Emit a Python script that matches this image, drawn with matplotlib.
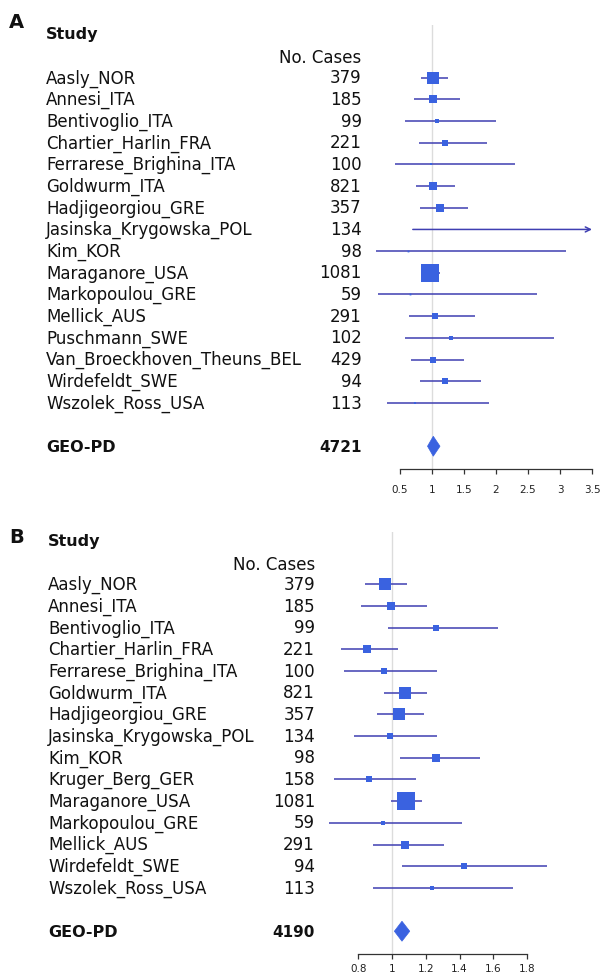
import matplotlib
matplotlib.use("Agg")
import matplotlib.pyplot as plt
import matplotlib.transforms as mtransforms
from matplotlib.patches import Polygon
from matplotlib.ticker import FixedLocator, FixedFormatter
import numpy as np

plt.rcParams['font.family'] = ['DejaVu Sans']

# ---------------- data: panel A ----------------
studies_A = ["Aasly_NOR", "Annesi_ITA", "Bentivoglio_ITA", "Chartier_Harlin_FRA",
             "Ferrarese_Brighina_ITA", "Goldwurm_ITA", "Hadjigeorgiou_GRE",
             "Jasinska_Krygowska_POL", "Kim_KOR", "Maraganore_USA", "Markopoulou_GRE",
             "Mellick_AUS", "Puschmann_SWE", "Van_Broeckhoven_Theuns_BEL",
             "Wirdefeldt_SWE", "Wszolek_Ross_USA"]
cases_A = [379, 185, 99, 221, 100, 821, 357, 134, 98, 1081, 59, 291, 102, 429, 94, 113]
or_A = [1.02, 1.02, 1.08, 1.21, 0.99, 1.01, 1.125, 3.8, 0.62, 0.965, 0.65, 1.04, 1.29, 1.01, 1.20, 0.74]
lo_A = [0.83, 0.72, 0.58, 0.79, 0.42, 0.75, 0.81, 0.70, 0.12, 0.84, 0.16, 0.645, 0.58, 0.67, 0.81, 0.29]
hi_A = [1.245, 1.44, 2.00, 1.86, 2.30, 1.36, 1.56, 20.6, 3.10, 1.12, 2.64, 1.67, 2.91, 1.50, 1.77, 1.89]
summary_A = (1.02, 0.93, 1.125)
total_A = 4721
ticks_A = [0.5, 1, 1.5, 2, 2.5, 3, 3.5]
ticklabels_A = ["0.5", "1", "1.5", "2", "2.5", "3", "3.5"]

# ---------------- data: panel B ----------------
studies_B = ["Aasly_NOR", "Annesi_ITA", "Bentivoglio_ITA", "Chartier_Harlin_FRA",
             "Ferrarese_Brighina_ITA", "Goldwurm_ITA", "Hadjigeorgiou_GRE",
             "Jasinska_Krygowska_POL", "Kim_KOR", "Kruger_Berg_GER", "Maraganore_USA",
             "Markopoulou_GRE", "Mellick_AUS", "Wirdefeldt_SWE", "Wszolek_Ross_USA"]
cases_B = [379, 185, 99, 221, 100, 821, 357, 134, 98, 158, 1081, 59, 291, 94, 113]
or_B = [0.959, 0.992, 1.262, 0.852, 0.953, 1.075, 1.041, 0.988, 1.260, 0.866, 1.085, 0.945, 1.077, 1.424, 1.237]
lo_B = [0.842, 0.815, 0.978, 0.698, 0.716, 0.954, 0.913, 0.773, 1.045, 0.657, 0.994, 0.629, 0.888, 1.059, 0.888]
hi_B = [1.087, 1.209, 1.627, 1.037, 1.266, 1.209, 1.189, 1.268, 1.523, 1.142, 1.178, 1.416, 1.306, 1.915, 1.716]
summary_B = (1.059, 1.014, 1.105)
total_B = 4190
ticks_B = [0.8, 1, 1.2, 1.4, 1.6, 1.8]
ticklabels_B = ["0.8", "1", "1.2", "1.4", "1.6", "1.8"]

# ---------------- styling ----------------
W, H = 601, 980
BOX = "#3a62e0"
LINE = "#3f3fb2"
GREY = "#dcdcdc"
FS = 12

fig = plt.figure(figsize=(W / 100, H / 100), dpi=100)


def panel(rect_px, xlim, ylim, studies, cases, est, lo, hi, summ, total,
          ticks, ticklabels, name_x, num_x, clip_hi, label, label_xy, tick_pad):
    l, t, r, b = rect_px
    ax = fig.add_axes([l / W, 1 - b / H, (r - l) / W, (b - t) / H])
    ax.set_xlim(*xlim)
    ax.set_ylim(*ylim)
    ax.patch.set_alpha(0)
    for s in ["top", "left", "right"]:
        ax.spines[s].set_visible(False)
    ax.spines["bottom"].set_bounds(ticks[0], ticks[-1])
    ax.spines["bottom"].set_linewidth(0.9)
    ax.spines["bottom"].set_color("#333333")
    ax.xaxis.set_major_locator(FixedLocator(ticks))
    ax.xaxis.set_major_formatter(FixedFormatter(ticklabels))
    ax.tick_params(axis="x", direction="out", length=3.8, width=0.9, color="#333333",
                   labelsize=7.5, labelcolor="#222222", pad=tick_pad)
    ax.set_yticks([])

    ax.axvline(1, color=GREY, lw=1.0, zorder=0)

    est = np.asarray(est); lo = np.asarray(lo); hi = np.asarray(hi)
    n = len(studies)
    rows = np.arange(n)
    inv = 2 * 1.96 / (np.log(hi) - np.log(lo))
    sizes = 12.6 * inv / inv.max()

    for i in range(n):
        if hi[i] > clip_hi:
            ax.annotate("", xy=(clip_hi, rows[i]), xytext=(lo[i], rows[i]),
                        arrowprops=dict(arrowstyle="->", color=LINE, lw=1.1,
                                        shrinkA=0, shrinkB=0, mutation_scale=9))
        else:
            ax.plot([lo[i], hi[i]], [rows[i], rows[i]], color=LINE, lw=1.1,
                    solid_capstyle="butt", zorder=2)
        ax.plot(est[i], rows[i], marker="s", ms=max(sizes[i], 1.3), color=BOX, mew=0, zorder=3)

    srow = n + 1
    m, slo, shi = summ
    ax.add_patch(Polygon([(slo, srow), (m, srow - 0.46), (shi, srow), (m, srow + 0.46)],
                         closed=True, facecolor=BOX, edgecolor=BOX, lw=0.5, zorder=3))

    trans = mtransforms.blended_transform_factory(fig.transFigure, ax.transData)
    off = 0.26
    for i in range(n):
        ax.text(name_x / W, rows[i] + off, studies[i], transform=trans,
                fontsize=FS, ha="left", va="baseline", color="#111111")
        ax.text(num_x / W, rows[i] + off, str(cases[i]), transform=trans,
                fontsize=FS, ha="right", va="baseline", color="#111111")
    ax.text(name_x / W, srow + off, "GEO-PD", transform=trans, fontsize=11.5,
            fontweight="bold", ha="left", va="baseline", color="#111111")
    ax.text(num_x / W, srow + off, str(total), transform=trans, fontsize=11,
            fontweight="bold", ha="right", va="baseline", color="#111111")
    ax.text(num_x / W, -0.93 + off, "No. Cases", transform=trans, fontsize=FS,
            ha="right", va="baseline", color="#111111")
    ax.text(name_x / W, -2.05 + off, "Study", transform=trans, fontsize=11.5,
            fontweight="bold", ha="left", va="baseline", color="#111111")
    fig.text(label_xy[0] / W, 1 - label_xy[1] / H, label, fontsize=14,
             fontweight="bold", ha="left", va="center", color="#111111")
    return ax


panel((365, 25, 600, 469), (1 + (365 - 432) / 64, 1 + (600 - 432) / 64), (18.05, -2.43),
      studies_A, cases_A, or_A, lo_A, hi_A, summary_A, total_A,
      ticks_A, ticklabels_A, 46, 361.5, 3.5, "A", (9, 22.5), 7.5)

panel((320, 531.7, 600, 954), (1 + (320 - 392) / 169, 1 + (600 - 392) / 169), (17.05, -2.43),
      studies_B, cases_B, or_B, lo_B, hi_B, summary_B, total_B,
      ticks_B, ticklabels_B, 48, 315, 3.0, "B", (9, 537.5), 3.5)

fig.savefig("out.png", dpi=100, facecolor="white")
